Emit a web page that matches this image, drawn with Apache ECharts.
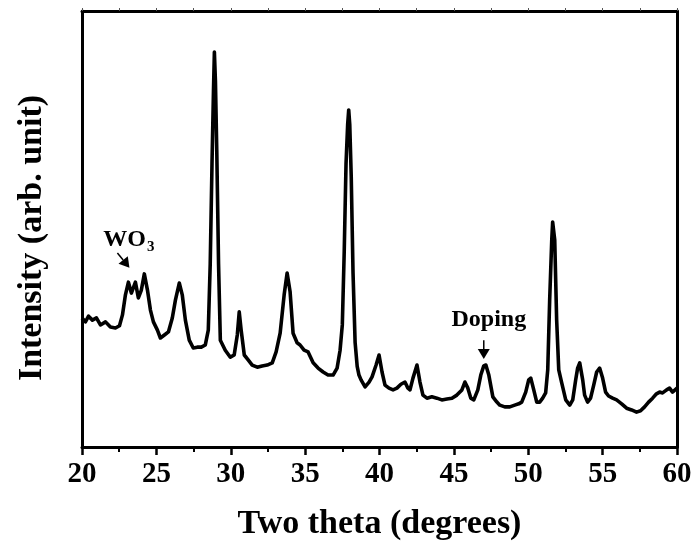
<!DOCTYPE html>
<html><head><meta charset="utf-8">
<script src="https://cdn.jsdelivr.net/npm/echarts@6/dist/echarts.min.js"></script>
<style>html,body{margin:0;padding:0;background:#fff}#c{width:696px;height:547px}</style>
</head><body><div id="c"></div>
<script>
// Two theta (degrees)
const twoTheta = [20.0,20.23,20.44,20.70,20.97,21.24,21.58,21.91,22.25,22.52,22.72,22.92,23.12,23.32,23.59,23.79,23.99,24.19,24.40,24.60,24.80,25.07,25.27,25.54,25.81,26.07,26.28,26.54,26.74,26.95,27.21,27.48,27.75,28.02,28.29,28.49,28.62,28.74,28.84,28.90,28.97,29.06,29.18,29.30,29.63,29.97,30.23,30.44,30.57,30.70,30.91,31.17,31.44,31.78,32.11,32.45,32.79,33.05,33.32,33.59,33.79,33.99,34.19,34.46,34.66,34.93,35.20,35.54,35.87,36.21,36.54,36.88,37.15,37.35,37.50,37.63,37.75,37.86,37.93,38.00,38.10,38.22,38.36,38.50,38.62,38.76,39.03,39.30,39.50,39.77,39.97,40.17,40.37,40.64,40.91,41.17,41.44,41.71,41.91,42.05,42.25,42.52,42.72,42.92,43.19,43.52,43.86,44.19,44.53,44.87,45.20,45.54,45.74,45.94,46.14,46.34,46.61,46.81,47.01,47.15,47.35,47.62,47.89,48.09,48.42,48.76,49.09,49.36,49.56,49.83,50.03,50.17,50.37,50.57,50.77,50.97,51.17,51.31,51.44,51.58,51.64,51.78,51.91,52.05,52.25,52.52,52.79,52.99,53.19,53.32,53.46,53.66,53.79,53.99,54.19,54.40,54.60,54.80,55.00,55.20,55.40,55.67,55.94,56.28,56.61,56.95,57.28,57.55,57.82,58.09,58.36,58.62,58.83,59.03,59.30,59.50,59.70,60.0];
// Intensity (arb. unit)
const intensity = [29.6,28.7,30.0,29.1,29.6,28.0,28.7,27.5,27.3,27.8,30.3,34.9,37.8,35.3,37.8,34.2,36.0,39.7,36.0,31.4,28.7,26.8,25.0,25.7,26.4,29.6,33.7,37.6,34.9,29.1,24.5,22.7,22.9,22.9,23.4,26.8,42.0,65.0,82.0,90.6,84.0,68.0,42.0,24.5,22.2,20.6,21.1,25.7,31.0,26.8,21.1,20.0,18.8,18.3,18.6,18.8,19.3,21.8,26.1,34.9,39.9,35.6,26.1,23.9,23.4,22.2,21.8,19.3,18.1,17.2,16.5,16.5,18.1,22.2,28.0,45.0,65.0,74.0,77.3,74.0,62.0,40.0,24.0,18.5,16.5,15.4,13.8,14.9,16.1,18.8,21.1,17.2,14.2,13.5,13.1,13.5,14.4,14.9,13.5,13.1,15.8,18.8,14.9,11.9,11.2,11.5,11.2,10.8,11.0,11.2,11.9,13.1,14.9,13.5,11.2,10.8,13.1,16.5,18.6,18.8,16.5,11.5,10.3,9.6,9.2,9.2,9.6,9.9,10.3,12.6,15.4,15.8,13.1,10.3,10.3,11.2,12.4,17.7,33.7,47.5,51.6,47.5,29.1,17.7,14.7,10.8,9.6,10.8,15.4,18.1,19.3,15.4,11.9,10.3,11.2,14.2,17.2,18.1,15.8,12.6,11.7,11.2,10.8,9.9,8.9,8.5,8.0,8.3,9.2,10.3,11.2,12.2,12.6,12.4,13.1,13.5,12.6,13.5];
const xTicks = [20,25,30,35,40,45,50,55,60];
const annotations = [
  {label:'WO', sub:'3', text:[23.15,47.5], arrowFrom:[22.38,44.5], arrowTo:[23.19,41.1]},
  {label:'Doping', sub:'', text:[47.35,29.1], arrowFrom:[47.01,24.5], arrowTo:[47.01,20.2]}
];

const FONT = '"Liberation Serif","Times New Roman",serif';
const chart = echarts.init(document.getElementById('c'), null, {renderer:'canvas'});
const data = twoTheta.map((x,i)=>[x,intensity[i]]);
chart.setOption({
  animation:false,
  backgroundColor:'#fff',
  grid:{left:82, right:19, top:11, bottom:100, containLabel:false},
  xAxis:[{
    type:'value', min:20, max:60, interval:5,
    name:'Two theta (degrees)', nameLocation:'middle', nameGap:60,
    nameTextStyle:{fontFamily:FONT, fontWeight:'bold', fontSize:34, color:'#000'},
    axisLine:{show:true, onZero:false, lineStyle:{color:'#000', width:3}},
    axisTick:{show:true, inside:false, length:8, lineStyle:{color:'#000', width:2.5}},
    minorTick:{show:true, splitNumber:2, length:5, lineStyle:{color:'#000', width:2}},
    axisLabel:{margin:13, fontFamily:FONT, fontWeight:'bold', fontSize:29, color:'#000',
      formatter:v=>xTicks.includes(v)?String(v):''},
    splitLine:{show:false}
  },{
    type:'value', position:'top', min:20, max:60, interval:5,
    axisLine:{show:true, onZero:false, lineStyle:{color:'#000', width:3}},
    axisTick:{show:true, inside:false, length:3, lineStyle:{color:'#555', width:1}},
    minorTick:{show:true, splitNumber:2, length:3, lineStyle:{color:'#555', width:1}},
    axisLabel:{show:false}, splitLine:{show:false}
  }],
  yAxis:[{
    type:'value', min:0, max:100,
    name:'Intensity (arb. unit)', nameLocation:'middle', nameGap:33,
    nameTextStyle:{fontFamily:FONT, fontWeight:'bold', fontSize:34, color:'#000', padding:[0,18,0,0]},
    axisLine:{show:true, onZero:false, lineStyle:{color:'#000', width:3}},
    axisTick:{show:false}, axisLabel:{show:false}, splitLine:{show:false}
  },{
    type:'value', position:'right', min:0, max:100,
    axisLine:{show:true, onZero:false, lineStyle:{color:'#000', width:3}},
    axisTick:{show:false}, axisLabel:{show:false}, splitLine:{show:false}
  }],
  series:[{
    type:'line', data:data, showSymbol:false, symbol:'none',
    lineStyle:{color:'#000', width:3.6, join:'round'}, smooth:false
  }]
});

function drawAnnotations(){
  const g = [];
  annotations.forEach(a=>{
    const t = chart.convertToPixel({xAxisIndex:0,yAxisIndex:0}, a.text);
    const f = chart.convertToPixel({xAxisIndex:0,yAxisIndex:0}, a.arrowFrom);
    const p = chart.convertToPixel({xAxisIndex:0,yAxisIndex:0}, a.arrowTo);
    g.push({type:'text', x:t[0], y:t[1], style:{
      text: a.sub ? '{m|'+a.label+'}{s|'+a.sub+'}' : '{m|'+a.label+'}',
      rich:{m:{fontFamily:FONT, fontWeight:'bold', fontSize:24, fill:'#000'},
            s:{fontFamily:FONT, fontWeight:'bold', fontSize:15, fill:'#000', padding:[14,0,0,1]}},
      align:'center', verticalAlign:'middle'}});
    const dx=p[0]-f[0], dy=p[1]-f[1], L=Math.hypot(dx,dy), ux=dx/L, uy=dy/L;
    const hl=10, hw=6;
    const bx=p[0]-ux*hl, by=p[1]-uy*hl;
    g.push({type:'line', shape:{x1:f[0],y1:f[1],x2:bx,y2:by}, style:{stroke:'#000', lineWidth:1.5}});
    g.push({type:'polygon', shape:{points:[[p[0],p[1]],[bx-uy*hw,by+ux*hw],[bx+uy*hw,by-ux*hw]]}, style:{fill:'#000'}});
  });
  chart.setOption({graphic:g});
}
drawAnnotations();
</script>
</body></html>
